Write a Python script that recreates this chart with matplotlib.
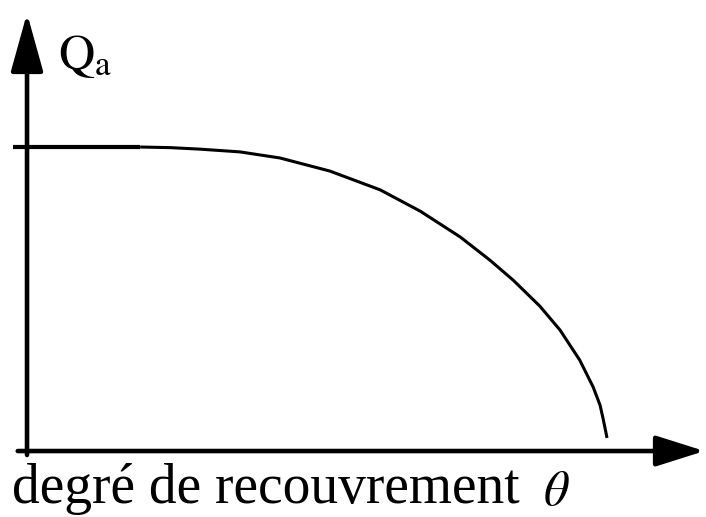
import matplotlib
matplotlib.use('Agg')
import matplotlib.pyplot as plt
import numpy as np

plt.rcParams['mathtext.fontset'] = 'stix'

# taux de recouvrement (theta) et quantite adsorbee Qa, unites relatives
theta = [-0.024, 0.195, 0.247, 0.298, 0.367, 0.436, 0.522, 0.609, 0.678, 0.747,
         0.798, 0.838, 0.884, 0.919, 0.953, 0.976, 0.988, 0.993, 0.998, 1.0]
Qa = [1.0, 1.0, 0.998, 0.993, 0.984, 0.964, 0.921, 0.859, 0.789, 0.704,
      0.628, 0.5625, 0.477, 0.398, 0.299, 0.211, 0.151, 0.109, 0.0625, 0.043]

xlabel = 'degré de recouvrement'
ylabel = r'$\mathrm{Q_a}$'

fig = plt.figure(figsize=(7.06, 5.17), dpi=100)
ax = fig.add_axes([0, 0, 1, 1])
ax.set_xlim(-0.0466, 1.1707)
ax.set_ylim(-0.217, 1.4836)
ax.axis('off')

# axes avec fleches
ax.annotate('', xy=(0, 1.44), xytext=(0, -0.013),
            arrowprops=dict(arrowstyle='-|>,head_length=3.6,head_width=1.0',
                            color='black', lw=3.3, shrinkA=0, shrinkB=0))
ax.annotate('', xy=(1.168, 0), xytext=(-0.016, 0),
            arrowprops=dict(arrowstyle='-|>,head_length=3.0,head_width=0.95',
                            color='black', lw=3.3, shrinkA=0, shrinkB=0))

# courbe
ax.plot(theta[:2], Qa[:2], color='black', lw=3.0, solid_capstyle='butt')
ax.plot(theta[1:], Qa[1:], color='black', lw=2.2, solid_capstyle='butt',
        solid_joinstyle='round')

ax.text(0.053, 1.30, ylabel, fontsize=36, ha='left', va='center')
ax.text(-0.026, -0.126, xlabel, fontsize=40, family='Liberation Serif',
        ha='left', va='center')
ax.text(0.89, -0.13, r'$\theta$', fontsize=36, ha='left', va='center')

fig.savefig('out.png', dpi=100, facecolor='white')
